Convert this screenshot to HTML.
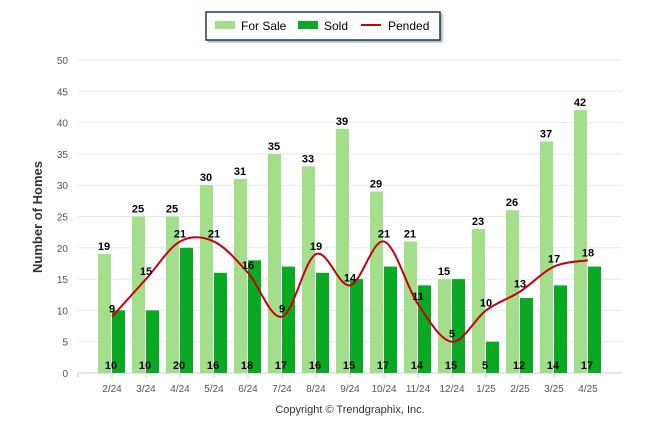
<!DOCTYPE html>
<html><head><meta charset="utf-8"><style>
body{margin:0;background:#fff;font-family:"Liberation Sans",sans-serif}
svg text{font-family:"Liberation Sans",sans-serif}
</style></head><body>
<svg id="c" width="646" height="434">
<g>
<rect x="206" y="12" width="234" height="28" fill="#fff" stroke="#1c3764" stroke-width="1.5" filter="url(#sh)"/>
<rect x="215" y="21" width="20" height="8" fill="#a3df8a"/>
<text x="241" y="30" font-size="12">For Sale</text>
<rect x="298" y="21" width="20" height="8" fill="#0aa924"/>
<text x="324" y="30" font-size="12">Sold</text>
<line x1="361" y1="25" x2="381" y2="25" stroke="#c8000e" stroke-width="2"/>
<text x="388" y="30" font-size="12">Pended</text>
</g>
<defs><filter id="sh"><feDropShadow dx="2" dy="2" stdDeviation="1" flood-opacity="0.3"/></filter></defs>
<text transform="translate(42,217) rotate(-90)" text-anchor="middle" font-size="13" font-weight="bold" fill="#333">Number of Homes</text>
<text x="350" y="413" text-anchor="middle" font-size="11" fill="#333">Copyright © Trendgraphix, Inc.</text>
<g id="grid"></g><g id="bars"></g><g id="line"></g><g id="labels"></g>
</svg>
<script>
const categories=["2/24","3/24","4/24","5/24","6/24","7/24","8/24","9/24","10/24","11/24","12/24","1/25","2/25","3/25","4/25"];
const forSale=[19,25,25,30,31,35,33,39,29,21,15,23,26,37,42];
const sold=[10,10,20,16,18,17,16,15,17,14,15,5,12,14,17];
const pended=[9,15,21,21,16,9,19,14,21,11,5,10,13,17,18];
const yTicks=[0,5,10,15,20,25,30,35,40,45,50];
const NS="http://www.w3.org/2000/svg";
const y=v=>373-v*6.26, x=i=>112+34*i;
function mk(t,a,p){const e=document.createElementNS(NS,t);for(const k in a)e.setAttribute(k,a[k]);document.getElementById(p).appendChild(e);return e;}
yTicks.forEach(t=>{
 const l=mk('line',{x1:78,x2:622,y1:y(t),y2:y(t),stroke:t?'#e8e8e8':'#ccc'},'grid');
 
 
 const tx=mk('text',{x:68,y:y(t)+4,'text-anchor':'end','font-size':10,fill:'#555'},'grid');tx.textContent=t;
 
 
});
categories.forEach((c,i)=>{
 const tk=mk('line',{x1:x(i)-34,x2:x(i)-34,y1:373,y2:378,stroke:'#ccc'},'grid');
 
 
 const t=mk('text',{x:x(i),y:392,'text-anchor':'middle','font-size':10,fill:'#555'},'grid');t.textContent=c;
 
 
 const b1=mk('rect',{x:x(i)-14,y:y(forSale[i]),width:13,height:373-y(forSale[i]),fill:'#a3df8a'},'bars');
 
 
 const b2=mk('rect',{x:x(i),y:y(sold[i]),width:13,height:373-y(sold[i]),fill:'#0aa924'},'bars');
 
 
 const l1=mk('text',{x:x(i)-8,y:y(forSale[i])-4,'text-anchor':'middle','font-size':11,'font-weight':'bold'},'labels');l1.textContent=forSale[i];
 
 
 const l2=mk('text',{x:x(i)-1,y:369,'text-anchor':'middle','font-size':11,'font-weight':'bold'},'labels');l2.textContent=sold[i];
 
 
 const l3=mk('text',{x:x(i),y:y(pended[i])-4,'text-anchor':'middle','font-size':11,'font-weight':'bold'},'labels');l3.textContent=pended[i];
 
 
});
const P=pended.map((v,i)=>[x(i),y(v)]);
let d='M'+P[0][0]+','+P[0][1];
for(let i=0;i<P.length-1;i++){
 const p0=P[Math.max(i-1,0)],p1=P[i],p2=P[i+1],p3=P[Math.min(i+2,P.length-1)];
 d+=` C${p1[0]+(p2[0]-p0[0])/6},${p1[1]+(p2[1]-p0[1])/6} ${p2[0]-(p3[0]-p1[0])/6},${p2[1]-(p3[1]-p1[1])/6} ${p2[0]},${p2[1]}`;
}
const ln=mk('path',{d:d,fill:'none',stroke:'#c8000e','stroke-width':2},'line');


</script>
</body></html>
